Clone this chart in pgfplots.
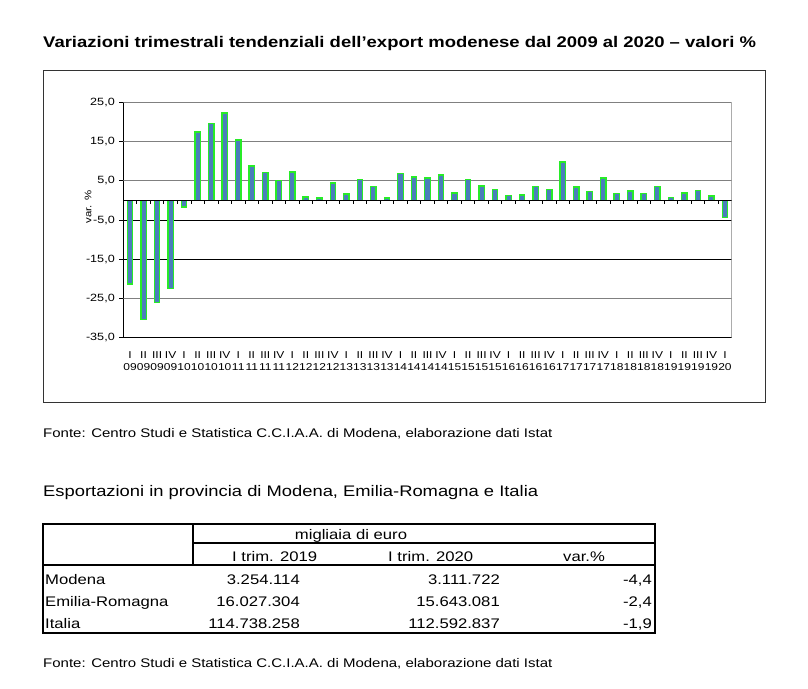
\documentclass[border=0pt]{standalone}
\usepackage{pgfplots}
\pgfplotsset{compat=1.18}
\usepackage{pgfplotstable}
\usepackage{fontspec}
\setmainfont{Liberation Sans}[FakeStretch=1.2]
\definecolor{barblue}{RGB}{74,126,187}
\definecolor{bargreen}{RGB}{40,235,40}
\definecolor{gridgray}{RGB}{128,128,128}

\pgfplotstableread{
x y
0 -21.3
1 -30.4
2 -26.0
3 -22.4
4 -1.7
5 17.4
6 19.6
7 22.3
8 15.4
9 8.8
10 7.1
11 5.1
12 7.2
13 0.9
14 0.6
15 4.4
16 1.6
17 5.4
18 3.6
19 0.6
20 6.8
21 6.0
22 5.7
23 6.5
24 1.9
25 5.4
26 3.7
27 2.7
28 1.2
29 1.4
30 3.6
31 2.7
32 9.8
33 3.4
34 2.2
35 5.7
36 1.7
37 2.4
38 1.7
39 3.6
40 0.7
41 1.9
42 2.6
43 1.1
44 -4.4
}\datatable

\begin{document}
\begin{tikzpicture}
\path[use as bounding box] (0pt,0pt) rectangle (808pt,-688pt);
% title
\node[anchor=base west, inner sep=0pt, font=\bfseries\fontsize{15.4}{18}\selectfont] at (43pt,-47pt)
  {Variazioni trimestrali tendenziali dell’export modenese dal 2009 al 2020 – valori \%};
% chart frame
\draw[line width=1pt, black!80] (43.3pt,-70.7pt) rectangle (765pt,-402pt);
% y label
\node[rotate=90, anchor=center, inner sep=0pt, font=\fontsize{9.5}{12}\selectfont] at (88pt,-207pt) {var. \%};

\begin{axis}[
  at={(123.3pt,-337.7pt)}, anchor=south west,
  scale only axis, width=608.4pt, height=235.4pt,
  xmin=-0.5, xmax=44.5, ymin=-35, ymax=25,
  axis x line*=bottom, axis y line*=left,
  axis line style={black, line width=0.8pt},
  xtick={0,...,44},
  xtick style={draw=none},
  xticklabels={{I\\09},{II\\09},{III\\09},{IV\\09},{I\\10},{II\\10},{III\\10},{IV\\10},{I\\11},{II\\11},{III\\11},{IV\\11},{I\\12},{II\\12},{III\\12},{IV\\12},{I\\13},{II\\13},{III\\13},{IV\\13},{I\\14},{II\\14},{III\\14},{IV\\14},{I\\15},{II\\15},{III\\15},{IV\\15},{I\\16},{II\\16},{III\\16},{IV\\16},{I\\17},{II\\17},{III\\17},{IV\\17},{I\\18},{II\\18},{III\\18},{IV\\18},{I\\19},{II\\19},{III\\19},{IV\\19},{I\\20}},
  xticklabel style={font=\fontsize{10}{12}\selectfont, align=center, yshift=-9pt, inner sep=1pt},
  ytick={-35,-25,-15,-5,5,15,25},
  ytick style={black, line width=0.8pt},
  tick align=outside, major tick length=4pt,
  yticklabel style={font=\fontsize{10.5}{13}\selectfont, xshift=-1pt},
  /pgf/number format/.cd, use comma, fixed, fixed zerofill, precision=1, 1000 sep={}, assume math mode=true,
]
% grid lines
\draw[gridgray, line width=0.8pt] (axis cs:-0.5,15) -- (axis cs:44.5,15);
\draw[gridgray, line width=0.8pt] (axis cs:-0.5,5) -- (axis cs:44.5,5);
\draw[black, line width=0.8pt] (axis cs:-0.5,-5) -- (axis cs:44.5,-5);
\draw[black, line width=0.8pt] (axis cs:-0.5,-15) -- (axis cs:44.5,-15);
\draw[gridgray, line width=0.8pt] (axis cs:-0.5,-25) -- (axis cs:44.5,-25);
\draw[gridgray, line width=1pt] (axis cs:-0.5,25) -- (axis cs:44.5,25) -- (axis cs:44.5,-35);
\addplot[ybar, bar width=5.4pt, fill=barblue, draw=bargreen, line width=1.3pt] table[x=x, y=y] {\datatable};
% zero line with ticks
\draw[black, line width=0.8pt] (axis cs:-0.5,0) -- (axis cs:44.5,0);
\pgfplotsinvokeforeach{0,...,43}{\draw[black, line width=0.8pt] (axis cs:#1+0.5,0) -- ([yshift=-4pt]axis cs:#1+0.5,0);}
\end{axis}

% source
\node[anchor=base west, inner sep=0pt, font=\fontsize{12.5}{15}\selectfont] at (43pt,-437pt)
  {Fonte: Centro Studi e Statistica C.C.I.A.A. di Modena, elaborazione dati Istat};
% table title
\node[anchor=base west, inner sep=0pt, font=\fontsize{15.3}{19}\selectfont] at (43pt,-496pt)
  {Esportazioni in provincia di Modena, Emilia-Romagna e Italia};
% table
\draw[line width=1.3pt] (43pt,-524pt) rectangle (655pt,-633pt);
\draw[line width=1.3pt] (193pt,-524pt) -- (193pt,-565pt);
\draw[line width=1.3pt] (193pt,-543pt) -- (655pt,-543pt);
\draw[line width=1.3pt] (43pt,-565pt) -- (655pt,-565pt);
\begin{scope}[every node/.style={inner sep=0pt, font=\fontsize{13.9}{18}\selectfont}]
\node[anchor=base] at (351pt,-539pt) {migliaia di euro};
\node[anchor=base west] at (232pt,-561pt) {I trim. 2019};
\node[anchor=base west] at (388pt,-561pt) {I trim. 2020};
\node[anchor=base west] at (563pt,-561pt) {var.\%};
\node[anchor=base west] at (45pt,-584pt) {Modena};
\node[anchor=base west] at (45pt,-606pt) {Emilia-Romagna};
\node[anchor=base west] at (45pt,-628pt) {Italia};
\node[anchor=base east] at (300pt,-584pt) {3.254.114};
\node[anchor=base east] at (300pt,-606pt) {16.027.304};
\node[anchor=base east] at (300pt,-628pt) {114.738.258};
\node[anchor=base east] at (500pt,-584pt) {3.111.722};
\node[anchor=base east] at (500pt,-606pt) {15.643.081};
\node[anchor=base east] at (500pt,-628pt) {112.592.837};
\node[anchor=base east] at (652pt,-584pt) {-4,4};
\node[anchor=base east] at (652pt,-606pt) {-2,4};
\node[anchor=base east] at (652pt,-628pt) {-1,9};
\end{scope}
\node[anchor=base west, inner sep=0pt, font=\fontsize{12.5}{15}\selectfont] at (43pt,-667pt)
  {Fonte: Centro Studi e Statistica C.C.I.A.A. di Modena, elaborazione dati Istat};
\end{tikzpicture}
\end{document}
